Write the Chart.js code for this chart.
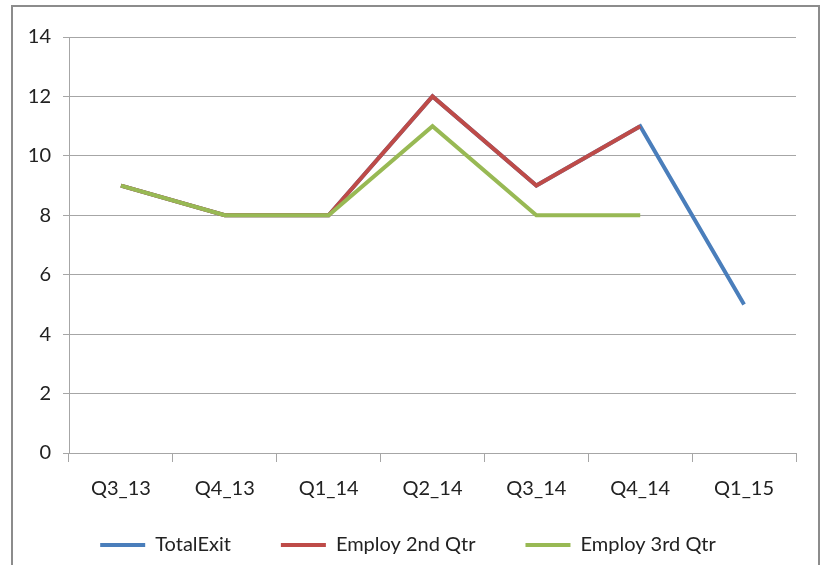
<!DOCTYPE html>
<html>
<head>
<meta charset="utf-8">
<script src="https://cdn.jsdelivr.net/npm/chart.js@4/dist/chart.umd.min.js"></script>
<style>
html,body{margin:0;padding:0;background:#fff;}
#wrap{position:relative;width:822px;height:565px;overflow:hidden;}
#frame{position:absolute;left:11px;top:5px;width:809px;height:620px;border:2px solid #8c8c8c;box-sizing:border-box;}
#c{position:absolute;left:0;top:0;}
</style>
</head>
<body>
<div id="wrap">
<div id="frame"></div>
<canvas id="c" width="822" height="565"></canvas>
</div>
<script>
const categories = ["Q3_13","Q4_13","Q1_14","Q2_14","Q3_14","Q4_14","Q1_15"];
const totalExit = [9,8,8,12,9,11,5];
const employ2nd = [9,8,8,12,9,11,null];
const employ3rd = [9,8,8,11,8,8,null];
const seriesNames = ["TotalExit","Employ 2nd Qtr","Employ 3rd Qtr"];
const yTicks = [0,2,4,6,8,10,12,14];

const FONT = "Lato, 'Liberation Sans', sans-serif";
const gridColor = "#a6a6a6";

new Chart(document.getElementById('c'), {
  type: 'line',
  data: {
    labels: categories,
    datasets: [
      {label: seriesNames[0], data: totalExit, borderColor: '#4a7ebb', backgroundColor: '#4a7ebb', borderWidth: 4, pointRadius: 0, order: 3, tension: 0},
      {label: seriesNames[1], data: employ2nd, borderColor: '#be4b48', backgroundColor: '#be4b48', borderWidth: 4, pointRadius: 0, order: 2, tension: 0},
      {label: seriesNames[2], data: employ3rd, borderColor: '#98b954', backgroundColor: '#98b954', borderWidth: 4, pointRadius: 0, order: 1, tension: 0}
    ]
  },
  options: {
    responsive: false,
    animation: false,
    devicePixelRatio: 1,
    layout: {padding: {left: 20, right: 26, top: 37, bottom: 0}},
    plugins: {
      tooltip: {enabled: false},
      legend: {
        position: 'bottom',
        labels: {
          usePointStyle: true,
          pointStyle: 'line',
          pointStyleWidth: 45,
          padding: 50,
          color: '#222',
          font: {family: FONT, size: 20},
          sort: (a, b) => a.datasetIndex - b.datasetIndex
        }
      }
    },
    scales: {
      x: {
        offset: true,
        afterFit: (axis) => { axis.height = 32; axis._computeLabelArea = () => undefined; },
        grid: {offset: true, drawOnChartArea: false, color: gridColor, tickLength: 9, lineWidth: 1},
        border: {color: gridColor, width: 1},
        ticks: {color: '#222', font: {family: FONT, size: 20}, padding: 15, maxRotation: 0}
      },
      y: {
        min: 0, max: 14,
        afterFit: (axis) => { axis.width = 49; },
        afterBuildTicks: (axis) => { axis.ticks = yTicks.map(v => ({value: v})); },
        grid: {color: gridColor, tickLength: 6, lineWidth: 1},
        border: {color: gridColor, width: 1},
        ticks: {color: '#222', font: {family: FONT, size: 20}, padding: 12}
      }
    }
  }
});
</script>
</body>
</html>
